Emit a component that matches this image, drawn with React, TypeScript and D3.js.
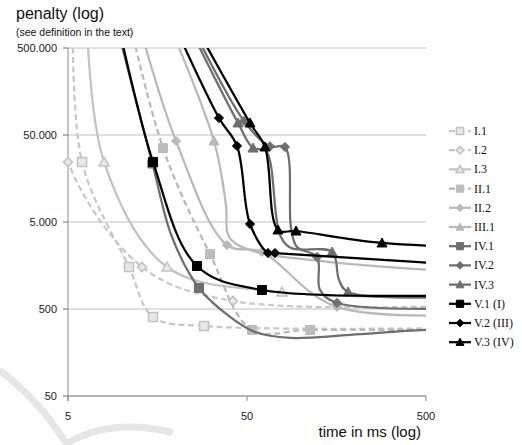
import React from "react";
import * as d3 from "d3";

type Pt = [number, number, number]; // [time ms, penalty, has marker]

const seriesNames = ["I.1", "I.2", "I.3", "II.1", "II.2", "III.1", "IV.1", "IV.2", "IV.3", "V.1 (I)", "V.2 (III)", "V.3 (IV)"];

const I1: Pt[] = [[5.33, 1780000, 0], [5.99, 24500, 1], [10.96, 1520, 1], [14.93, 405, 1], [28.75, 319, 1], [3000, 313, 0]];
const I2: Pt[] = [[4.6, 150000, 0], [5, 24500, 1], [12.96, 1520, 1], [41.77, 618, 1], [3000, 600, 0]];
const I3: Pt[] = [[6.3, 1780000, 0], [7.95, 24500, 1], [17.87, 1520, 1], [78.41, 784, 1], [3000, 690, 0]];
const II1: Pt[] = [[10.4, 1780000, 0], [16.97, 35400, 1], [31.06, 2140, 1], [53.32, 287, 1], [112.5, 287, 1], [3000, 290, 0]];
const II2: Pt[] = [[11.39, 1780000, 0], [20.07, 42650, 1], [38.66, 2720, 1], [60.63, 2260, 1], [159.2, 528, 1], [3000, 490, 0]];
const III1: Pt[] = [[16.13, 1780000, 0], [32.7, 42650, 1], [38.16, 7840, 0], [39.67, 3360, 0], [51.97, 2380, 0], [145.5, 1734, 0], [3000, 1150, 0]];
const IV1: Pt[] = [[8.59, 1780000, 0], [14.8, 23500, 1], [19.05, 3360, 0], [26.96, 872, 1], [40.2, 405, 0], [55.42, 272, 0], [87, 233, 0], [188, 252, 0], [500, 287, 0], [2800, 300, 0]];
const IV2: Pt[] = [[20.85, 1780000, 0], [48.1, 72400, 1], [67.2, 37000, 1], [81.5, 36400, 1], [88.1, 4280, 0], [95.1, 2580, 0], [123.1, 1980, 1], [127.9, 830, 0], [159.2, 587, 1], [3000, 540, 0]];
const IV3: Pt[] = [[20.07, 1780000, 0], [44.54, 68700, 1], [54.01, 35400, 1], [63.85, 32700, 0], [76.43, 3540, 0], [88.1, 2510, 0], [149.3, 2260, 1], [163.4, 1077, 0], [183.4, 784, 1], [3000, 760, 0]];
const V1: Pt[] = [[8.92, 1780000, 0], [14.93, 24500, 1], [26.28, 1560, 1], [60.63, 827, 1], [3000, 770, 0]];
const V2: Pt[] = [[16.97, 1780000, 0], [34.87, 78400, 1], [43.97, 37400, 1], [51.97, 4740, 1], [65.5, 2200, 1], [71.66, 2200, 1], [3000, 1330, 0]];
const V3: Pt[] = [[21.39, 1780000, 0], [51.97, 68700, 1], [63.02, 36400, 1], [74.48, 4050, 1], [93.94, 3940, 1], [283.9, 2870, 1], [3000, 2450, 0]];

const seriesData: Pt[][] = [I1, I2, I3, II1, II2, III1, IV1, IV2, IV3, V1, V2, V3];

const xTicks = [5, 50, 500];
const yTicks = [50, 500, 5000, 50000, 500000];

const yTitle = "penalty (log)";
const ySubtitle = "(see definition in the text)";
const xTitle = "time in ms (log)";

type Sty = { stroke: string; dash: string | null; shape: string; fill: string; ms: string; msw: number };
const LI = "#c8c8c8";
const LII = "#b9b9b9";
const GIV = "#6e6e6e";
const styles: Sty[] = [
  { stroke: LI, dash: "6,3.5", shape: "square", fill: "#e8e8e8", ms: "#c2c2c2", msw: 1.5 },
  { stroke: LI, dash: "6,3.5", shape: "diamond", fill: "#e8e8e8", ms: "#c2c2c2", msw: 1.5 },
  { stroke: "#c2c2c2", dash: null, shape: "triangle", fill: "#e8e8e8", ms: "#c2c2c2", msw: 1.5 },
  { stroke: LII, dash: "6,3.5", shape: "square", fill: "#bdbdbd", ms: "#bdbdbd", msw: 1 },
  { stroke: LII, dash: null, shape: "diamond", fill: "#b9b9b9", ms: "#b9b9b9", msw: 1 },
  { stroke: LII, dash: null, shape: "triangle", fill: "#b9b9b9", ms: "#b9b9b9", msw: 1 },
  { stroke: GIV, dash: null, shape: "square", fill: GIV, ms: GIV, msw: 1 },
  { stroke: GIV, dash: null, shape: "diamond", fill: GIV, ms: GIV, msw: 1 },
  { stroke: GIV, dash: null, shape: "triangle", fill: GIV, ms: GIV, msw: 1 },
  { stroke: "#000", dash: null, shape: "square", fill: "#000", ms: "#000", msw: 1 },
  { stroke: "#000", dash: null, shape: "diamond", fill: "#000", ms: "#000", msw: 1 },
  { stroke: "#000", dash: null, shape: "triangle", fill: "#000", ms: "#000", msw: 1 },
];

function markerPath(shape: string, r: number): string {
  if (shape === "square") return `M${-r},${-r}H${r}V${r}H${-r}Z`;
  if (shape === "diamond") return `M0,${-r}L${r},0L0,${r}L${-r},0Z`;
  return `M0,${-r}L${r},${r * 0.8}L${-r},${r * 0.8}Z`;
}

const fmtLocale = d3.formatLocale({ decimal: ",", thousands: ".", grouping: [3], currency: ["", ""] });
const yFmt = fmtLocale.format(",");

export default function App() {
  const left = 68, right = 426, top = 48, bottom = 396;
  const X = d3.scaleLog().domain([5, 500]).range([left, right]);
  const Y = d3.scaleLog().domain([50, 500000]).range([bottom, top]);
  const line = d3
    .line<Pt>()
    .x((d) => X(d[0]))
    .y((d) => Y(d[1]))
    .curve(d3.curveCatmullRom.alpha(0.5));
  const sans = "'Liberation Sans', Arial, sans-serif";
  const serif = "'Liberation Serif', 'Times New Roman', serif";
  const legX = 449, legY0 = 131, legDy = 19.2;

  return (
    <svg width={522} height={445} style={{ position: "absolute", left: 0, top: 0, background: "#fff" }}>
      <rect width={522} height={445} fill="#fff" />
      {/* faint watermark strokes */}
      <g fill="none" stroke="#e6e6e6" strokeWidth={7} strokeLinecap="round">
        <path d="M2,372 Q40,402 64,440" />
        <path d="M66,444 Q110,418 170,432" />
      </g>
      <defs>
        <clipPath id="plotclip">
          <rect x={left} y={top} width={right - left} height={bottom - top} />
        </clipPath>
      </defs>
      {/* gridlines */}
      {yTicks.map((t) => (
        <line key={"g" + t} x1={left - 5} x2={right} y1={Y(t)} y2={Y(t)} stroke="#bfbfbf" strokeWidth={1} />
      ))}
      <line x1={left} x2={left} y1={top} y2={bottom + 5} stroke="#8a8a8a" strokeWidth={1} />
      <line x1={left} x2={right} y1={bottom} y2={bottom} stroke="#8a8a8a" strokeWidth={1} />
      {yTicks.map((t) => (
        <line key={"yt" + t} x1={left - 5} x2={left} y1={Y(t)} y2={Y(t)} stroke="#8a8a8a" />
      ))}
      {xTicks.map((t) => (
        <line key={"xt" + t} x1={X(t)} x2={X(t)} y1={bottom} y2={bottom + 5} stroke="#8a8a8a" />
      ))}
      {yTicks.map((t) => (
        <text key={"yl" + t} x={left - 11} y={Y(t)} dy="0.35em" textAnchor="end" fontFamily={sans} fontSize={11} fill="#222">
          {yFmt(t)}
        </text>
      ))}
      {xTicks.map((t) => (
        <text key={"xl" + t} x={X(t)} y={bottom + 20} dy="0.35em" textAnchor="middle" fontFamily={sans} fontSize={11} fill="#222">
          {String(t)}
        </text>
      ))}
      <text x={16} y={19} fontFamily={sans} fontSize={16} fill="#111">{yTitle}</text>
      <text x={16} y={36} fontFamily={sans} fontSize={10.5} fill="#111">{ySubtitle}</text>
      <text x={421} y={437} textAnchor="end" fontFamily={sans} fontSize={15} fill="#111">{xTitle}</text>

      {seriesData.map((pts, i) => {
        const s = styles[i];
        return (
          <g key={"s" + i}>
            <path
              d={line(pts) || ""}
              fill="none"
              stroke={s.stroke}
              strokeWidth={2.25}
              strokeDasharray={s.dash || undefined}
              clipPath="url(#plotclip)"
            />
            {pts
              .filter((p) => p[2] === 1)
              .map((p, j) => (
                <path
                  key={j}
                  d={markerPath(s.shape, s.shape === "square" ? 4.5 : s.shape === "diamond" ? 4.6 : 5)}
                  transform={`translate(${X(p[0])},${Y(p[1])})`}
                  fill={s.fill}
                  stroke={s.ms}
                  strokeWidth={s.msw}
                />
              ))}
          </g>
        );
      })}

      {/* legend */}
      {seriesNames.map((n, i) => {
        const s = styles[i];
        const y = legY0 + i * legDy;
        return (
          <g key={"lg" + i}>
            <line x1={legX} x2={legX + 22} y1={y} y2={y} stroke={s.stroke} strokeWidth={2.25} strokeDasharray={s.dash || undefined} />
            <path
              d={markerPath(s.shape, s.shape === "square" ? 3.6 : s.shape === "diamond" ? 3.8 : 4)}
              transform={`translate(${legX + 11},${y})`}
              fill={s.fill}
              stroke={s.ms}
              strokeWidth={s.msw}
            />
            <text x={legX + 25} y={y} dy="0.33em" fontFamily={serif} fontSize={12} fill="#111">
              {n}
            </text>
          </g>
        );
      })}
    </svg>
  );
}
